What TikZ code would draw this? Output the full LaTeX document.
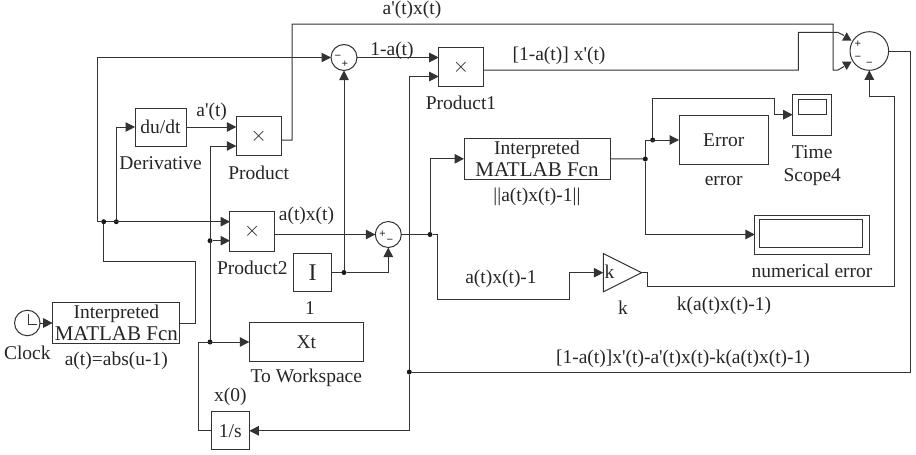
\documentclass[tikz,border=0pt]{standalone}
\usepackage{fontspec}
\setmainfont{Liberation Serif}[Ligatures=TeXOff]
\usetikzlibrary{arrows.meta,shapes.geometric}

\definecolor{wire}{gray}{0.2}
\newcommand{\fcntext}{Interpreted\\[1pt]{\fontsize{21}{21}\selectfont MATLAB Fcn}}
\tikzset{
  every node/.style={font=\fontsize{19.5}{21}\selectfont,text=black!85,inner sep=0pt,outer sep=0pt},
  block/.style={draw=wire,rectangle,align=center},
  sumblock/.style={draw=wire,circle},
  dot/.style={circle,fill=black!90,minimum size=5pt},
  sign/.style={font=\fontsize{11.5}{11.5}\selectfont\bfseries}
}

\begin{document}
\begin{tikzpicture}[x=1pt,y=-1pt,line width=1pt,wire,>={Triangle[length=9.5pt,width=9.5pt]},node distance=36pt]
    \useasboundingbox (0,0) rectangle (916,455);

    % blocks
    \node[sumblock,minimum size=25.5pt]                  (clock)  at (27.3,323)    {};
    \node[block,minimum width=127.3pt,minimum height=40.3pt] (fcna)   at (116.3,323)   {\fcntext};
    \node[block,minimum width=51pt,minimum height=38pt]  (deriv)  at (160.5,127)   {du/dt};
    \node[block,minimum width=44.7pt,minimum height=39.3pt] (prod)   at (258.7,136.3) {$\times$};
    \node[block,minimum width=44.7pt,minimum height=40pt] (prodb)  at (252.3,231)   {$\times$};
    \node[block,minimum width=44.6pt,minimum height=39.4pt] (proda)  at (461,67)      {$\times$};
    \node[block,minimum width=38.4pt,minimum height=38.4pt,font=\fontsize{24}{24}\selectfont] (unit)   at (312.5,272.5) {I};
    \node[block,minimum width=114pt,minimum height=38.3pt]  (xt)     at (306.3,342)   {Xt};
    \node[block,minimum width=38pt,minimum height=38.3pt]   (integ)  at (230.3,430.8) {1/s};
    \node[block,minimum width=146pt,minimum height=41pt]    (fcnb)   at (537,158.8)   {\fcntext};
    \node[block,minimum width=89.3pt,minimum height=48.3pt] (err)    at (723.7,140)   {Error};
    \node[block,minimum width=39pt,minimum height=40.7pt]   (scope)  at (812.2,114.7) {};
    \node[block,minimum width=28.3pt,minimum height=15.3pt] (scopein) at (812.8,107.3) {};
    \node[block,minimum width=114.7pt,minimum height=39pt]  (disp)   at (812.2,234.5) {};
    \node[block,minimum width=103.7pt,minimum height=28pt]  (dispin) at (810.9,233.3) {};
    \node[draw=wire,isosceles triangle,isosceles triangle apex angle=53.13,minimum height=38.4pt,anchor=lower side] (gain) at (603.3,272.7) {};

    \node[sumblock,minimum size=26pt]   (suma) at (344,57.5)    {};
    \node[sumblock,minimum size=38.6pt] (sumb) at (869.3,51)    {};
    \node[sumblock,minimum size=26pt]   (sumc) at (388.3,234.5) {};

    % signs of the sums
    \node[sign] (sa1) at (338,57.5)  {−};
    \node[sign] (sa2) at (345,64)    {+};
    \node[sign] (sb1) at (858,44.5)  {+};
    \node[sign] (sb2) at (858,58)    {−};
    \node[sign] (sb3) at (869.3,64)  {−};
    \node[sign] (sc1) at (382.5,234.5) {+};
    \node[sign] (sc2) at (390,241)   {−};

    % junctions
    \node[dot] (busa) at (103.7,221.7) {};
    \node[dot] (busb) at (116.3,221.7) {};
    \node[dot] (xdot) at (210,240.7)   {};
    \node[dot] (xdotb) at (210,342)    {};
    \node[dot] (adot) at (344,272.5)   {};
    \node[dot] (erra) at (430,234.5)   {};
    \node[dot] (errb) at (645.3,159)   {};
    \node[dot] (errc) at (652.7,140)   {};
    \node[dot] (res)  at (409.3,372)   {};

    % ports and bends
    \coordinate (prodin1)  at (236.3,127);
    \coordinate (prodin2)  at (236.3,146);
    \coordinate (prodout)  at (281,140);
    \coordinate (prodbin1) at (230,221.7);
    \coordinate (prodbin2) at (230,240.7);
    \coordinate (prodain1) at (438.7,57.5);
    \coordinate (prodain2) at (438.7,76.5);
    \coordinate (prodaout) at (483.3,70);
    \coordinate (busleft)  at (97.5,221.7);
    \coordinate (fcnbend)  at (195,261);
    \coordinate (intleft)  at (198.3,430.8);
    \coordinate (topa)     at (292,24);
    \coordinate (topb)     at (833,70);
    \coordinate (topc)     at (838,70);
    \coordinate (topd)     at (844,66.5);
    \coordinate (seca)     at (798.3,70);
    \coordinate (secb)     at (837.7,32.3);
    \coordinate (secc)     at (844,35.5);
    \coordinate (resright) at (910,51);
    \coordinate (erre)     at (437.7,234.5);
    \coordinate (errf)     at (569.3,299);
    \coordinate (scbend)   at (774.3,98);
    \coordinate (gaina)    at (647.7,272.7);
    \coordinate (gainb)    at (894.7,286.3);
    \coordinate (gainc)    at (894.7,96.7);

    % connectors
    \path[->] (clock) edge (fcna)
              (deriv) edge (prodin1 -| prod.west)
              (busa)  edge (prodbin1)
              (xdot)  edge (prodbin2)
              (prodb.east |- sumc) edge (sumc)
              (suma)  edge (prodain1)
              (adot)  edge (suma);
    \draw (fcna) -| (fcnbend) -| (busa);
    \draw[->] (busa) -- (busleft) |- (suma);
    \draw[->] (busb) |- (deriv);
    \draw[->] (xdotb) |- (prodin2);
    \draw[->] (integ) -- (intleft) |- (xt);
    \draw (prodout) -| (topa) -| (topb) -- (topc) -- (topd);
    \draw (prodaout) -- (seca) |- (secb) -- (secc);
    \fill (846.7,32.3) -- (842,40.7) -- (851.5,40.7) -- cycle;
    \fill (846.7,70) -- (842,61.7) -- (851.5,61.7) -- cycle;
    \draw (sumb) -- (resright) |- (res);
    \draw[->] (res) |- (prodain2);
    \draw[->] (res) |- (integ);
    \draw[->] (unit) -- (adot) -| (sumc);
    \draw (sumc) -- (erra);
    \draw[->] (erra) |- (fcnb);
    \draw (fcnb) -- (errb);
    \draw[->] (errb) |- (err);
    \draw[->] (errb) |- (disp);
    \draw[->] (errc) |- (scbend) |- (scope);
    \draw[->] (erra) -- (erre) |- (errf) |- (gain.lower side);
    \draw (gain.apex) -- (gaina) |- (gainb) -- (gainc);
    \draw[->] (gainc) -| (sumb);

    % clock hands
    \draw (28.3,314) -- (28.3,324) -- (36.7,324);

    % block names
    \node (lblderiv) [below of=deriv] {Derivative};
    \node (lblprod)  [below of=prod,node distance=37pt] {Product};
    \node (lblproda) [below of=proda] {Product1};
    \node (lblprodb) [below of=prodb,node distance=37pt] {Product2};
    \node (lblunit)  [below of=unit,node distance=36pt,xshift=-2.5pt] {1};
    \node (lblxt)    [below of=xt] {To Workspace};
    \node (lblinteg) [above of=integ,node distance=34pt] {x(0)};
    \node (lblclock) [below of=clock,node distance=30pt] {Clock};
    \node (lblfcna)  [below of=fcna,node distance=38pt] {a(t)=abs(u-1)};
    \node (lblfcnb)  [below of=fcnb,node distance=38pt] {||a(t)x(t)-1||};
    \node (lblerr)   [below of=err,node distance=41pt] {error};
    \node (lblscope) [below of=scope,node distance=37.5pt] {Time};
    \node (lblscopeb) [below of=lblscope,node distance=25pt] {Scope4};
    \node (lbldisp)  at (812,271) {numerical error};
    \node (gaink)    at (609.5,272) {k};
    \node (lblgain)  at (623,308) {k};

    % signal names
    \node (sigda)  at (211.7,112) {a'(t)};
    \node (sigdax) at (412,10)    {a'(t)x(t)};
    \node (sigia)  at (392,51)    {1-a(t)};
    \node (sigax)  at (306.5,216) {a(t)x(t)};
    \node (sigiax) at (559,56)    {[1-a(t)] x'(t)};
    \node (sigerr) at (501,279)   {a(t)x(t)-1};
    \node (sigk)   at (724,306)   {k(a(t)x(t)-1)};
    \node (sigres) at (683,359)   {[1-a(t)]x'(t)-a'(t)x(t)-k(a(t)x(t)-1)};
  \end{tikzpicture}
\end{document}
